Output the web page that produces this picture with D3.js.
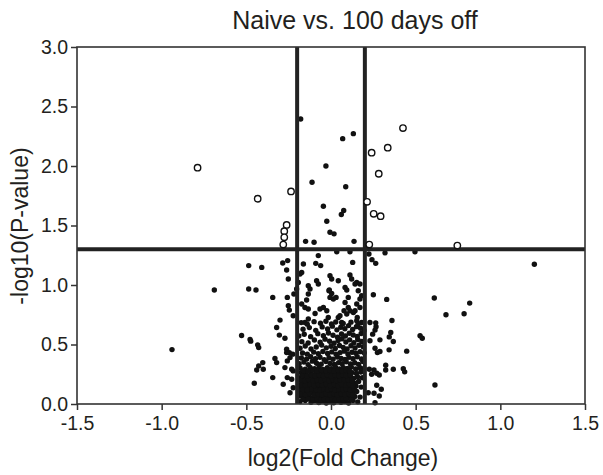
<!DOCTYPE html>
<html>
<head>
<meta charset="utf-8">
<script src="https://cdn.jsdelivr.net/npm/d3@7/dist/d3.min.js"></script>
<style>
  html, body { margin: 0; padding: 0; background: #fff; }
  svg { display: block; font-family: "Liberation Sans", Arial, Helvetica, sans-serif; }
</style>
</head>
<body>
<svg id="chart" width="603" height="475"></svg>
<script>
// ---------------- DATA ----------------
const chartTitle = "Naive vs. 100 days off";
const xLabel = "log2(Fold Change)";
const yLabel = "-log10(P-value)";
const xTicks = [-1.5, -1.0, -0.5, 0.0, 0.5, 1.0, 1.5];
const yTicks = [0.0, 0.5, 1.0, 1.5, 2.0, 2.5, 3.0];
const foldCutoffs = [-0.2, 0.2];
const pCutoff = 1.301;

// significant genes (open circles) [log2FC, -log10 p]
const sigPoints = [
  [-0.788,1.986],[-0.433,1.725],[-0.236,1.786],[-0.262,1.505],[-0.276,1.452],
  [-0.276,1.401],[-0.282,1.34],[0.240,2.112],[0.335,2.154],[0.425,2.319],
  [0.282,1.935],[0.213,1.699],[0.252,1.598],[0.293,1.578],[0.226,1.34],[0.746,1.331]
];

// non-significant genes above p threshold but inside fold cutoffs
const highPoints = [
  [-0.179,2.395],[0.069,2.230],[0.132,2.272],[-0.030,2.0],[-0.112,1.864],[0.087,1.826],
  [-0.045,1.662],[0.075,1.626],[0.061,1.592],[-0.025,1.536],[-0.006,1.443],[0.018,1.43],
  [-0.150,1.367],[-0.100,1.359],[0.136,1.367],[0.034,1.28],[0.112,1.28],[0.319,1.27],[0.496,1.28]
];

// genes left of the fold cutoff
const leftPoints = [
  [-0.939,0.457],[-0.689,0.958],[-0.528,0.576],[-0.486,1.163],[-0.486,0.966],[-0.443,0.958],
  [-0.478,0.542],[-0.474,0.528],[-0.433,0.497],[-0.427,0.474],[-0.439,0.286],[-0.427,0.32],
  [-0.453,0.174],[-0.409,1.148],[-0.285,1.185],[-0.256,1.205],[-0.262,1.126],[-0.252,1.05],
  [-0.344,0.896],[-0.258,0.896],[-0.252,0.826],[-0.246,0.789],[-0.219,0.924],[-0.223,0.741],
  [-0.301,0.705],[-0.321,0.643],[-0.305,0.579],[-0.272,0.553],[-0.331,0.382],[-0.321,0.348],
  [-0.403,0.348],[-0.4,0.292],[-0.262,0.461],[-0.246,0.432],[-0.242,0.39],[-0.258,0.362],
  [-0.226,0.419],[-0.272,0.306],[-0.232,0.292],[-0.344,0.222],[-0.258,0.222],[-0.232,0.208],
  [-0.223,0.137],[-0.242,0.095],[-0.282,0.166],[-0.223,0.278],[-0.262,0.432]
];

// genes right of the fold cutoff
const rightPoints = [
  [0.224,1.261],[0.242,1.213],[0.264,1.182],[1.201,1.174],[0.25,0.918],[0.329,0.879],
  [0.61,0.891],[0.819,0.848],[0.679,0.75],[0.786,0.758],[0.36,0.702],[0.264,0.682],
  [0.266,0.649],[0.26,0.621],[0.246,0.587],[0.353,0.601],[0.344,0.564],[0.368,0.525],
  [0.289,0.539],[0.23,0.531],[0.526,0.573],[0.539,0.553],[0.343,0.455],[0.26,0.469],
  [0.274,0.432],[0.289,0.441],[0.447,0.444],[0.323,0.326],[0.323,0.286],[0.368,0.292],
  [0.427,0.297],[0.435,0.27],[0.254,0.286],[0.27,0.259],[0.285,0.244],[0.614,0.16],
  [0.27,0.158],[0.297,0.124],[0.254,0.09],[0.285,0.067],[0.26,0.011],[0.23,0.685],
  [0.226,0.292],[0.24,0.25],[0.22,0.095]
];

// genes in the central band, upper part
const bandUpper = [
  [-0.075,1.247],[-0.09,1.182],[-0.061,1.163],[0.128,1.19],[-0.173,1.106],[-0.183,1.093],
  [-0.006,1.078],[0.004,1.05],[0.043,1.036],[0.112,1.084],[0.122,1.05],[0.152,1.022],
  [0.171,1.008],[-0.085,1.036],[-0.075,1.008],[-0.193,1.022],[-0.163,1.177],[0.142,1.008],
  [-0.173,0.84],[-0.154,0.811],[-0.134,0.798],[-0.065,0.798],[-0.045,0.811],[-0.025,0.783],
  [0.083,0.853],[0.102,0.811],[0.112,0.783],[0.132,0.769],[0.093,0.756],[0.152,0.84],
  [0.171,0.811],[0.043,0.727],[0.063,0.685],[-0.016,0.727],[-0.134,0.714],[-0.154,0.685],
  [0.152,0.699],[0.181,0.685],[-0.012,0.952],[0.004,0.929],[-0.006,0.896],[0.014,0.882],
  [0.083,0.98],[0.093,0.958],[0.161,0.952],[0.181,0.91],[0.171,0.882],[-0.134,0.924],
  [-0.134,0.994],[-0.124,0.966],[-0.203,0.966],[-0.144,0.874],[-0.094,0.761],[0.053,0.741],
  [0.077,0.783],[0.102,0.896],[0.142,0.783],[0.155,0.727],[0.03,0.896],[-0.01,0.958]
];

// genes in the central band, middle part
const bandMiddle = [
  [-0.183,0.468],[-0.152,0.487],[-0.118,0.462],[-0.087,0.479],[-0.055,0.495],[-0.028,0.472],
  [0.0,0.485],[0.025,0.466],[0.05,0.492],[0.072,0.476],[0.095,0.463],[0.118,0.489],
  [0.142,0.47],[0.165,0.494],[0.19,0.481],
  [-0.172,0.524],[-0.135,0.512],[-0.098,0.538],[-0.064,0.519],[-0.035,0.545],[-0.008,0.527],
  [0.018,0.51],[0.042,0.533],[0.065,0.548],[0.088,0.521],[0.11,0.539],[0.135,0.515],
  [0.158,0.542],[0.182,0.526],
  [-0.19,0.572],[-0.158,0.586],[-0.12,0.566],[-0.078,0.591],[-0.045,0.574],[-0.015,0.597],
  [0.012,0.578],[0.038,0.562],[0.062,0.589],[0.085,0.571],[0.108,0.594],[0.131,0.58],
  [0.155,0.567],[0.178,0.592],
  [-0.165,0.628],[-0.128,0.642],[-0.09,0.619],[-0.052,0.648],[-0.02,0.631],[0.008,0.654],
  [0.035,0.623],[0.058,0.645],[0.082,0.632],[0.104,0.659],[0.128,0.626],[0.15,0.65],
  [0.175,0.637],[0.195,0.618],
  [-0.176,0.684],[-0.14,0.671],[-0.1,0.692],[-0.062,0.678],[-0.03,0.695],[0.003,0.672],
  [0.028,0.689],[0.072,0.676],[0.118,0.688],[0.16,0.673]
];

// genes in the central band, lower dense part
const bandLower = [
  [-0.188,0.338],[-0.16,0.352],[-0.135,0.331],[-0.11,0.36],[-0.085,0.343],[-0.058,0.335],
  [-0.03,0.357],[-0.005,0.34],[0.02,0.332],[0.045,0.348],[0.066,0.338],[0.09,0.355],
  [0.115,0.336],[0.14,0.347],[0.163,0.333],[0.188,0.358],
  [-0.175,0.386],[-0.145,0.377],[-0.12,0.398],[-0.092,0.381],[-0.065,0.393],[-0.04,0.372],
  [-0.012,0.389],[0.012,0.376],[0.038,0.395],[0.06,0.383],[0.083,0.374],[0.106,0.392],
  [0.13,0.381],[0.155,0.397],[0.18,0.378],
  [-0.168,0.428],[-0.14,0.419],[-0.102,0.436],[-0.075,0.422],[-0.048,0.441],[-0.02,0.425],
  [0.005,0.438],[0.03,0.418],[0.054,0.432],[0.078,0.444],[0.1,0.421],[0.124,0.435],
  [0.147,0.426],[0.172,0.44],[0.196,0.43],
  [-0.183,0.02],[-0.152,0.03],[-0.118,0.015],[-0.095,0.028],[-0.072,0.012],[-0.05,0.024],
  [-0.028,0.008],[-0.006,0.02],[0.016,0.01],[0.037,0.026],[0.059,0.014],[0.081,0.022],
  [0.104,0.009],[0.13,0.03],[0.158,0.018],
  [-0.19,0.066],[-0.163,0.055],[-0.138,0.07],[-0.112,0.052],[-0.088,0.064],[-0.064,0.049],
  [-0.041,0.068],[-0.019,0.054],[0.004,0.066],[0.027,0.05],[0.048,0.071],[0.071,0.056],
  [0.093,0.067],[0.116,0.051],[0.141,0.063],[0.172,0.058],
  [-0.178,0.103],[-0.149,0.095],[-0.125,0.11],[-0.1,0.092],[-0.077,0.106],[-0.054,0.094],
  [-0.031,0.112],[-0.008,0.097],[0.014,0.108],[0.036,0.091],[0.06,0.104],[0.083,0.097],
  [0.107,0.111],[0.129,0.093],[0.152,0.105],
  [-0.186,0.141],[-0.16,0.132],[-0.133,0.148],[-0.109,0.135],[-0.084,0.152],[-0.061,0.137],
  [-0.038,0.146],[-0.015,0.131],[0.009,0.149],[0.031,0.136],[0.054,0.15],[0.077,0.134],
  [0.099,0.147],[0.122,0.138],[0.148,0.151],[0.178,0.142],
  [-0.171,0.183],[-0.144,0.176],[-0.12,0.191],[-0.095,0.172],[-0.071,0.187],[-0.047,0.178],
  [-0.024,0.193],[0.0,0.175],[0.022,0.188],[0.045,0.171],[0.068,0.19],[0.091,0.179],
  [0.113,0.186],[0.137,0.174],[0.163,0.19],
  [-0.189,0.222],[-0.156,0.215],[-0.13,0.231],[-0.104,0.213],[-0.08,0.228],[-0.056,0.216],
  [-0.033,0.234],[-0.01,0.219],[0.013,0.226],[0.037,0.212],[0.06,0.231],[0.084,0.22],
  [0.108,0.229],[0.133,0.214],[0.157,0.227],[0.185,0.22],
  [-0.176,0.262],[-0.147,0.254],[-0.118,0.268],[-0.091,0.251],[-0.066,0.265],[-0.04,0.257],
  [-0.017,0.27],[0.007,0.253],[0.03,0.266],[0.053,0.258],[0.077,0.272],[0.1,0.255],
  [0.124,0.264],[0.15,0.256],[0.176,0.269],
  [-0.182,0.3],[-0.152,0.293],[-0.123,0.308],[-0.097,0.296],[-0.07,0.31],[-0.046,0.291],
  [-0.022,0.304],[0.002,0.297],[0.026,0.312],[0.05,0.294],[0.073,0.306],[0.097,0.299],
  [0.12,0.311],[0.146,0.295],[0.171,0.305],[0.195,0.298]
];

// extra genes filling the dense core near zero
const bandCore = [
  [-0.166,0.04],[-0.134,0.043],[-0.106,0.037],[-0.083,0.046],[-0.061,0.034],[-0.039,0.041],
  [-0.016,0.036],[0.006,0.044],[0.026,0.033],[0.047,0.042],[0.07,0.038],[0.092,0.045],[0.118,0.036],
  [-0.175,0.083],[-0.151,0.078],[-0.126,0.088],[-0.099,0.075],[-0.076,0.084],[-0.052,0.079],
  [-0.03,0.087],[-0.007,0.077],[0.016,0.086],[0.038,0.074],[0.061,0.083],[0.082,0.079],[0.105,0.086],[0.128,0.077],
  [-0.165,0.122],[-0.139,0.118],[-0.113,0.127],[-0.088,0.121],[-0.066,0.116],[-0.043,0.125],
  [-0.02,0.119],[0.003,0.128],[0.024,0.117],[0.047,0.124],[0.07,0.12],[0.091,0.127],[0.114,0.118],[0.138,0.124],
  [-0.178,0.162],[-0.151,0.157],[-0.123,0.166],[-0.098,0.155],[-0.074,0.163],[-0.051,0.158],
  [-0.027,0.167],[-0.004,0.156],[0.02,0.164],[0.041,0.155],[0.063,0.166],[0.087,0.158],[0.109,0.165],[0.131,0.156],
  [-0.18,0.2],[-0.155,0.197],[-0.132,0.206],[-0.107,0.195],[-0.083,0.203],[-0.06,0.198],
  [-0.036,0.207],[-0.013,0.196],[0.01,0.205],[0.033,0.197],[0.055,0.204],[0.079,0.199],[0.101,0.206],[0.124,0.197],
  [-0.168,0.24],[-0.142,0.236],[-0.117,0.246],[-0.093,0.238],[-0.068,0.244],[-0.045,0.237],
  [-0.022,0.245],[0.001,0.236],[0.024,0.243],[0.046,0.238],[0.069,0.246],[0.091,0.239],[0.115,0.244],
  [-0.162,0.28],[-0.136,0.276],[-0.108,0.283],[-0.082,0.278],[-0.056,0.285],[-0.03,0.279],
  [-0.006,0.284],[0.018,0.277],[0.041,0.286],[0.064,0.28],[0.087,0.284],[0.11,0.277]
];

// ---------------- DRAW ----------------
const svg = d3.select("#chart");
const x = d3.scaleLinear().domain([-1.5, 1.5]).range([77, 585]);
const y = d3.scaleLinear().domain([0, 3]).range([404, 47]);
const ink = "#231f20";

// title
svg.append("text").attr("x", 355).attr("y", 29).attr("text-anchor", "middle")
  .attr("font-size", 25).attr("fill", ink).text(chartTitle);

// filled points
const filled = [].concat(highPoints, leftPoints, rightPoints, bandUpper, bandMiddle, bandLower, bandCore);
svg.append("g").selectAll("circle").data(filled).join("circle")
  .attr("cx", d => x(d[0])).attr("cy", d => y(d[1])).attr("r", 2.7).attr("fill", "#111");

// cutoff lines
svg.append("g").selectAll("line").data(foldCutoffs).join("line")
  .attr("x1", d => x(d)).attr("x2", d => x(d)).attr("y1", y(3)).attr("y2", y(0))
  .attr("stroke", "#222").attr("stroke-width", 4);
svg.append("line").attr("x1", x(-1.5)).attr("x2", x(1.5))
  .attr("y1", y(pCutoff)).attr("y2", y(pCutoff)).attr("stroke", "#222").attr("stroke-width", 4);

// open circles
svg.append("g").selectAll("circle").data(sigPoints).join("circle")
  .attr("cx", d => x(d[0])).attr("cy", d => y(d[1])).attr("r", 3.2)
  .attr("fill", "#fff").attr("stroke", "#111").attr("stroke-width", 1.4);

// frame
svg.append("rect").attr("x", x(-1.5)).attr("y", y(3)).attr("width", x(1.5) - x(-1.5))
  .attr("height", y(0) - y(3)).attr("fill", "none").attr("stroke", "#333").attr("stroke-width", 1.6);

// axes
const fmt = d => d.toFixed(1);
const xAxis = svg.append("g").attr("transform", `translate(0,${y(0)})`)
  .call(d3.axisBottom(x).tickValues(xTicks).tickFormat(fmt).tickSize(6).tickSizeOuter(0).tickPadding(6));
const yAxis = svg.append("g").attr("transform", `translate(${x(-1.5)},0)`)
  .call(d3.axisLeft(y).tickValues(yTicks).tickFormat(fmt).tickSize(6).tickSizeOuter(0).tickPadding(3));
[xAxis, yAxis].forEach(g => {
  g.select(".domain").remove();
  g.selectAll("line").attr("stroke", "#333").attr("stroke-width", 1.5);
  g.selectAll("text").attr("font-size", 19.5).attr("fill", ink)
    .attr("font-family", "'Liberation Sans', Arial, sans-serif");
});

// axis labels
svg.append("text").attr("x", 343).attr("y", 466).attr("text-anchor", "middle")
  .attr("font-size", 23).attr("fill", ink).text(xLabel);
svg.append("text").attr("transform", "translate(28,226) rotate(-90)").attr("text-anchor", "middle")
  .attr("font-size", 23).attr("fill", ink).text(yLabel);
</script>
</body>
</html>
